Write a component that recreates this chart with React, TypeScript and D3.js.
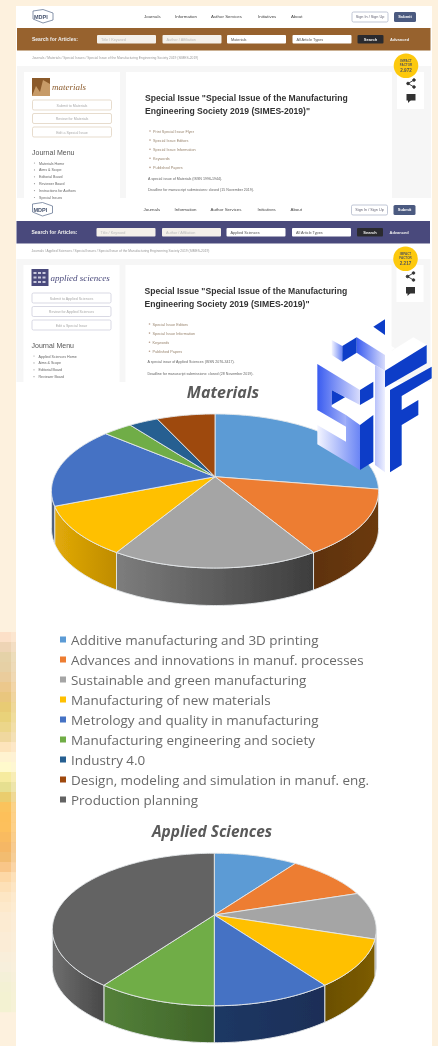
import React from "react";
import * as d3 from "d3";

const categories = [
  "Additive manufacturing and 3D printing",
  "Advances and innovations in manuf. processes",
  "Sustainable and green manufacturing",
  "Manufacturing of new materials",
  "Metrology and quality in manufacturing",
  "Manufacturing engineering and society",
  "Industry 4.0",
  "Design, modeling and simulation in manuf. eng.",
  "Production planning",
];
const colors = ["#5b9bd5", "#ed7d31", "#a5a5a5", "#ffc000", "#4472c4", "#70ad47", "#255e91", "#9e480e", "#636363"];
const materialsValues = [8, 4, 5, 3, 5, 1, 1, 2, 0];
const appliedValues = [1, 1, 1, 1, 1, 1, 0, 0, 4];
const wallLeft = ["#4a7fb0", "#5f3210", "#7d7d7d", "#e2aa08", "#5a6a85", "#54813a", "#1d4a72", "#6d320a", "#6e6e6e"];
const wallRight = ["#3a6a95", "#6b3a10", "#3d3d3d", "#bf8c00", "#4a5a75", "#3f6428", "#163a5a", "#5a2908", "#484848"];
const wallLeftApplied = ["#4a7fb0", "#5f3210", "#7d7d7d", "#6a4f00", "#1f3864", "#54813a", "#1d4a72", "#6d320a", "#6e6e6e"];
const wallRightApplied = ["#3a6a95", "#6b3a10", "#3d3d3d", "#7d5c00", "#1a2e57", "#3f6428", "#163a5a", "#5a2908", "#484848"];

const leftStrip = ["#fce0c8","#eed4b5","#e5d2a8","#e6d0a5","#eacc9c","#ecc88c","#e9c67e","#e8cb74","#e9d27a","#ecd68a","#f0d89f","#fde4bb","#fff3d0","#fffacc","#f6eb9f","#e6df90","#eacd6e","#fbc35c","#fdc05a","#fdc05c","#f9bb60","#f5b765","#f2bc70","#f9c688","#fdd8a6","#fde0b7","#fde6c4","#fde9cb","#fcebd2","#fcebd2","#fbecd6","#fbecd6","#f9eeda","#f7efdc","#f4f0d8","#f3f1d4","#f3f2d2","#f3f2d2"];

const navItems = ["Journals", "Information", "Author Services", "Initiatives", "About"];
const navX = [144, 175, 211, 258, 291];

const sheets = [
  { dy: 0, dx: 0, color: "#97622e", journal: "Materials", short: "materials", impact: "2.972", crumb: "Journals / Materials / Special Issues / Special Issue of the Manufacturing Engineering Society 2019 (SIMES-2019)",
    links: ["Print Special Issue Flyer", "Special Issue Editors", "Special Issue Information", "Keywords", "Published Papers"],
    note: "A special issue of Materials (ISSN 1996-1944).", deadline: "Deadline for manuscript submissions: closed (15 November 2019).",
    menu: ["Materials Home", "Aims & Scope", "Editorial Board", "Reviewer Board", "Instructions for Authors", "Special Issues"], h: 198 },
  { dy: 193, dx: -0.5, color: "#4a4a7c", journal: "Applied Sciences", short: "applied sciences", impact: "2.217", crumb: "Journals / Applied Sciences / Special Issues / Special Issue of the Manufacturing Engineering Society 2019 (SIMES-2019)",
    links: ["Special Issue Editors", "Special Issue Information", "Keywords", "Published Papers"],
    note: "A special issue of Applied Sciences (ISSN 2076-3417).", deadline: "Deadline for manuscript submissions: closed (28 November 2019).",
    menu: ["Applied Sciences Home", "Aims & Scope", "Editorial Board", "Reviewer Board", "Instructions for Authors"], h: 382 },
];

const logoDark = [
  [[97,108],[140,82],[140,128],[97,155]],
  [[225,182],[350,105],[350,160],[225,232]],
  [[240,240],[365,170],[365,205],[275,258],[275,300],[325,270],[325,315],[275,345],[275,465],[240,487]],
  [[65,240],[105,262],[65,285]],
  [[150,345],[190,315],[190,455],[150,480]],
  [[225,28],[190,50],[225,75]],
  [[150,240],[190,215],[190,262],[150,285]],
];
const logoFadeRight = [
  [[65,90],[97,108],[97,155],[65,135]],
  [[22,345],[108,395],[108,315],[150,345],[150,480],[22,403]],
];
const logoFadeLeft = [
  [[140,82],[225,135],[225,182],[195,165],[140,128]],
  [[22,162],[150,240],[150,285],[65,240],[65,290],[108,315],[108,350],[22,300]],
];
const logoPale = [
  [[195,165],[225,182],[225,487],[195,465]],
];
const logoWhite = [
  [[225,135],[310,82],[350,105],[225,182]],
  [[65,290],[105,265],[190,315],[150,345]],
  [[140,82],[170,62],[255,115],[225,135]],
];

function Pie3D({ cx, cy, B, A, c, depth, values, left, right, id }: any) {
  const pie = d3.pie<number>().sort(null).startAngle(0).endAngle(2 * Math.PI);
  const arcs = pie(values);
  const project = (t: number): [number, number] => {
    const u = Math.sin(t), v = -Math.cos(t), w = 1 + c * v;
    return [cx + (B * u) / w, cy + (A * v) / w];
  };
  const line = d3.line();
  const sil = Math.acos(c);
  const sample = (a: number, b: number) => {
    const n = Math.max(2, Math.ceil(((b - a) * 180) / Math.PI));
    return d3.range(n + 1).map((i) => project(a + ((b - a) * i) / n));
  };
  return (
    <g>
      <defs>
        {arcs.map((s, i) => (
          <linearGradient key={i} id={`${id}w${i}`} x1="0" x2="1" y1="0" y2="0">
            <stop offset="0" stopColor={left[i]} />
            <stop offset="1" stopColor={right[i]} />
          </linearGradient>
        ))}
      </defs>
      {arcs.map((s, i) => {
        const a = Math.max(s.startAngle, sil), b = Math.min(s.endAngle, 2 * Math.PI - sil);
        if (s.value === 0 || b <= a) return null;
        const top = sample(a, b);
        const bot = top.map(([x, y]) => [x, y + depth] as [number, number]).reverse();
        return <path key={i} d={line([...top, ...bot])! + "Z"} fill={`url(#${id}w${i})`} stroke="#e4e8ea" strokeWidth={0.9} />;
      })}
      {arcs.map((s, i) => {
        if (s.value === 0) return null;
        const pts = [[cx, cy] as [number, number], ...sample(s.startAngle, s.endAngle)];
        return <path key={i} d={line(pts)! + "Z"} fill={colors[i]} stroke="#e4e8ea" strokeWidth={0.9} strokeLinejoin="round" />;
      })}
    </g>
  );
}

function Sheet({ s }: any) {
  const sans = "Liberation Sans";
  const sideLinks = [`Submit to ${s.journal}`, `Review for ${s.journal}`, "Edit a Special Issue"];
  return (
    <g transform={`translate(${s.dx},${s.dy})`} fontFamily={sans} filter="url(#blur)">
      <path d="M33 11 L43 9.5 L53 13 L53 20 L43 23 L33 19Z" fill="#fff" stroke="#6a7a95" strokeWidth={0.8} />
      <text x={34} y={18.5} fontSize={5.5} fontWeight="bold" fill="#46536e">MDPI</text>
      {navItems.map((n, i) => <text key={n} x={navX[i]} y={17.5} fontSize={4.4} fill="#444">{n}</text>)}
      <rect x={352} y={12} width={36} height={10} rx={1.5} fill="#fff" stroke="#a8b0c4" strokeWidth={0.7} />
      <text x={370} y={18} fontSize={3.8} fill="#667" textAnchor="middle">Sign In / Sign Up</text>
      <rect x={394} y={12} width={22} height={10} rx={1.5} fill="#4c5a80" />
      <text x={405} y={18} fontSize={4} fill="#fff" textAnchor="middle" fontWeight="bold">Submit</text>
      <rect x={17} y={28} width={413.5} height={22.5} fill={s.color} />
      <text x={32} y={41} fontSize={5} fontWeight="bold" fill="#eee">Search for Articles:</text>
      {[[97, 59, "Title / Keyword"], [162.5, 59, "Author / Affiliation"], [227, 59, s.journal], [292.5, 59, "All Article Types"]].map(([x, w, t]: any, i) => (
        <g key={i}>
          <rect x={x} y={35} width={w} height={8.5} rx={1} fill={i < 2 ? "#f4f0ea" : "#fff"} />
          <text x={x + 4} y={41} fontSize={3.8} fill={i < 2 ? "#bbb" : "#555"}>{t}</text>
        </g>
      ))}
      <rect x={357.5} y={35} width={26} height={8.5} rx={1} fill="#2c2c2e" />
      <text x={370.5} y={41} fontSize={4} fill="#eee" fontWeight="bold" textAnchor="middle">Search</text>
      <text x={390} y={41} fontSize={4} fill="#eee" fontWeight="bold">Advanced</text>
      <text x={32} y={59} fontSize={3.3} fill="#999">{s.crumb}</text>
      <rect x={17} y={66} width={414} height={s.h - 66 - s.dy} fill="#f6f6f6" />
      <rect x={24} y={72} width={96} height={s.h - 72 - s.dy} fill="#fff" />
      <rect x={126} y={72} width={266} height={s.h - 72 - s.dy} fill="#fff" />
      <rect x={397} y={72} width={27} height={37} fill="#fff" />
      <circle cx={406} cy={65.7} r={12.3} fill="#fdc90f" />
      <text x={406} y={62} fontSize={3} fill="#555" fontWeight="bold" textAnchor="middle">IMPACT</text>
      <text x={406} y={66} fontSize={3} fill="#555" fontWeight="bold" textAnchor="middle">FACTOR</text>
      <text x={406} y={71.5} fontSize={4.6} fill="#555" fontWeight="bold" textAnchor="middle">{s.impact}</text>
      <g stroke="#333" strokeWidth={0.9} fill="#333">
        <line x1={408} y1={83.5} x2={414} y2={80} /><line x1={408} y1={83.5} x2={414} y2={87} />
        <circle cx={414} cy={80} r={1.3} /><circle cx={408} cy={83.5} r={1.3} /><circle cx={414} cy={87} r={1.3} />
      </g>
      <rect x={406.5} y={94} width={9} height={6.5} fill="#333" />
      <path d="M408 100 L408 103 L411 100Z" fill="#333" />
      <text x={145} y={100.5} fontSize={8.6} fontWeight="bold" fill="#333">Special Issue "Special Issue of the Manufacturing</text>
      <text x={145} y={114} fontSize={8.6} fontWeight="bold" fill="#333">Engineering Society 2019 (SIMES-2019)"</text>
      {s.links.map((t: string, i: number) => (
        <g key={t}>
          <circle cx={150} cy={131 + i * 9.1} r={0.8} fill="#b8a090" />
          <text x={153} y={132.5 + i * 9.1} fontSize={3.8} fill="#9a8670">{t}</text>
        </g>
      ))}
      <text x={148} y={132.5 + s.links.length * 9.1 + 1.5} fontSize={3.6} fill="#666">{s.note}</text>
      <text x={148} y={132.5 + s.links.length * 9.1 + 13} fontSize={3.6} fill="#666">{s.deadline}</text>
      {s.dy === 0 ? (
        <g>
          <rect x={32} y={78} width={18} height={18} fill="#8b5a2b" />
          <path d="M32 96 L36 86 L40 92 L43 80 L50 84 L50 96Z" fill="#c79b68" />
          <text x={52} y={90} fontSize={9} fontStyle="italic" fontFamily="Liberation Serif" fill="#8b5a2b">{s.short}</text>
        </g>
      ) : (
        <g>
          <rect x={32} y={76} width={17} height={17} fill="#4a4a7c" />
          <path d="M34 80h13M34 84.5h13M34 89h13" stroke="#c8c8dc" strokeWidth={2} strokeDasharray="3 1.5" />
          <text x={51} y={88} fontSize={9} fontStyle="italic" fontFamily="Liberation Serif" fill="#4a4a7c">{s.short}</text>
        </g>
      )}
      {sideLinks.map((t, i) => (
        <g key={t}>
          <rect x={32.5} y={100 + i * 13.5} width={79} height={10} rx={1.5} fill="#fff" stroke={s.dy ? "#c8c8d8" : "#dccdb8"} strokeWidth={0.7} />
          <text x={72} y={106.5 + i * 13.5} fontSize={3.6} fill="#aaa" textAnchor="middle">{t}</text>
        </g>
      ))}
      <text x={32} y={154.5} fontSize={7} fill="#555">Journal Menu</text>
      {s.menu.map((t: string, i: number) => (
        <g key={t}>
          <circle cx={34.5} cy={163 + i * 6.9} r={0.6} fill="#999" />
          <text x={39} y={164.5 + i * 6.9} fontSize={3.6} fill="#666">{t}</text>
        </g>
      ))}
    </g>
  );
}

export default function App() {
  const Z = (p: number[][]) => p.map(([x, y]) => `${310 + x / 3},${310 + y / 3}`).join(" ");
  return (
    <svg width={438} height={1046} viewBox="0 0 438 1046" style={{ position: "absolute", left: 0, top: 0 }}>
      <defs>
        <filter id="blur" x="0" y="0" width="100%" height="100%"><feGaussianBlur stdDeviation="0.5" /></filter>
        <filter id="soft" x="-5%" y="-5%" width="110%" height="110%"><feGaussianBlur stdDeviation="0.35" /></filter>
        <filter id="titleBlur" x="-10%" y="-30%" width="120%" height="160%"><feGaussianBlur stdDeviation="0.3" /></filter>
        <linearGradient id="fadeRight" x1="0" x2="1" y1="0" y2="0">
          <stop offset="0" stopColor="#f4f5ff" />
          <stop offset="1" stopColor="#6a85f5" />
        </linearGradient>
        <linearGradient id="fadeLeft" x1="0" x2="1" y1="0" y2="0">
          <stop offset="0" stopColor="#3a5cf0" />
          <stop offset="1" stopColor="#d8dcfc" />
        </linearGradient>
        <linearGradient id="pale" x1="0" x2="1" y1="0" y2="0">
          <stop offset="0" stopColor="#b9c2fa" />
          <stop offset="1" stopColor="#eef0ff" />
        </linearGradient>
      </defs>
      <rect width={438} height={1046} fill="#fdf1de" />
      {leftStrip.map((col, i) => (
        <g key={i}>
          <rect x={0} y={632 + i * 10} width={11} height={10.2} fill={col} />
          <rect x={11} y={632 + i * 10} width={5} height={10.2} fill={col} opacity={0.65} />
        </g>
      ))}
      <rect x={16} y={6} width={416} height={1040} fill="#fff" />
      {sheets.map((s) => <Sheet key={s.journal} s={s} />)}
      <rect x={16} y={382} width={416} height={664} fill="#fff" />
      <g filter="url(#soft)">
        <Pie3D id="m" cx={215} cy={476.7} B={160.7} A={74.35} c={-0.1857} depth={37.5} values={materialsValues} left={wallLeft} right={wallRight} />
        <Pie3D id="a" cx={214.3} cy={915} B={159} A={73.5} c={-0.19} depth={37} values={appliedValues} left={wallLeftApplied} right={wallRightApplied} />
      </g>
      <g fontFamily="Open Sans" fontStyle="italic" fontWeight="bold" fill="#5a5a5a" textAnchor="middle" filter="url(#titleBlur)">
        <text x={223} y={398} fontSize={16}>Materials</text>
        <text x={212} y={837} fontSize={15.4}>Applied Sciences</text>
      </g>
      <g filter="url(#titleBlur)">
        {categories.map((c, i) => (
          <g key={c}>
            <rect x={60} y={636.5 + i * 20} width={6} height={6} fill={colors[i]} />
            <text x={71} y={645 + i * 20} fontFamily="Open Sans" fontSize={13.45} fill="#6a6a6a">{c}</text>
          </g>
        ))}
      </g>
      <g filter="url(#soft)">
        {logoWhite.map((p, i) => <polygon key={i} points={Z(p)} fill="#fff" />)}
        {logoFadeRight.map((p, i) => <polygon key={i} points={Z(p)} fill="url(#fadeRight)" />)}
        {logoFadeLeft.map((p, i) => <polygon key={i} points={Z(p)} fill="url(#fadeLeft)" />)}
        {logoPale.map((p, i) => <polygon key={i} points={Z(p)} fill="url(#pale)" />)}
        {logoDark.map((p, i) => <polygon key={i} points={Z(p)} fill="#0a3cc8" />)}
      </g>
    </svg>
  );
}
